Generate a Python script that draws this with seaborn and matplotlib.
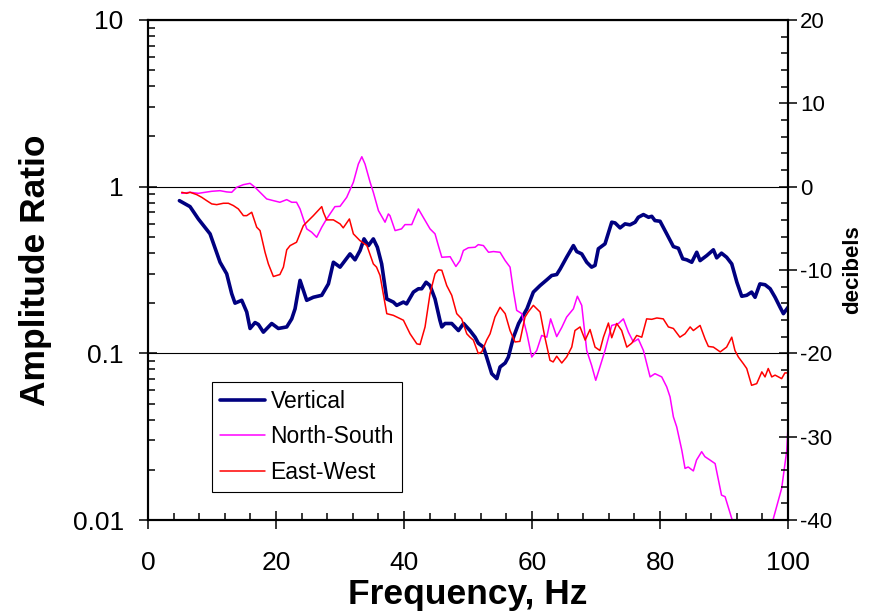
import matplotlib
matplotlib.use("Agg")
import matplotlib.pyplot as plt
import matplotlib.ticker as mticker
import numpy as np
import seaborn as sns

# Vertical component (frequency in Hz, amplitude ratio)
vert_f = [4.9, 6.56, 7.86, 9.69, 11.25, 12.29, 13.07, 13.59, 14.64, 15.42, 15.94, 16.72, 17.24,
          18.02, 19.32, 20.36, 21.67, 22.45, 22.97, 23.75, 24.79, 25.83, 27.14, 28.18, 28.96,
          30.0, 31.56, 32.34, 33.13, 33.75, 34.43, 35.2, 35.83, 36.5, 37.3, 38.33, 38.85, 39.9,
          40.4, 41.46, 42.24, 42.76, 43.44, 44.06, 44.84, 45.6, 45.9, 46.4, 47.45, 48.5, 49.3,
          50.3, 51.1, 51.6, 52.4, 52.9, 53.7, 54.5, 55.0, 55.8, 56.3, 57.1, 57.9, 59.2, 60.2,
          61.25, 62.3, 63.07, 63.85, 64.4, 65.4, 66.46, 66.98, 67.76, 68.54, 69.3, 69.84, 70.36,
          71.4, 72.45, 72.97, 73.75, 74.53, 75.3, 76.1, 76.6, 77.4, 78.2, 78.7, 79.2, 80.0,
          81.04, 82.08, 82.86, 83.54, 84.17, 84.95, 85.73, 86.25, 87.3, 88.33, 88.85, 89.6,
          90.4, 91.2, 92.0, 92.76, 93.54, 94.3, 94.84, 95.6, 96.4, 97.2, 97.97, 98.75, 99.27, 100.0]
vert_amp = [0.824, 0.759, 0.64, 0.521, 0.352, 0.3, 0.228, 0.2, 0.208, 0.177, 0.141, 0.153, 0.149,
            0.134, 0.151, 0.141, 0.144, 0.161, 0.185, 0.274, 0.208, 0.217, 0.223, 0.261, 0.352,
            0.329, 0.395, 0.364, 0.414, 0.486, 0.443, 0.486, 0.433, 0.344, 0.212, 0.203, 0.194, 0.203,
            0.198, 0.233, 0.244, 0.244, 0.267, 0.255, 0.212, 0.158, 0.144, 0.151, 0.151, 0.137, 0.151,
            0.137, 0.125, 0.115, 0.109, 0.095, 0.0755, 0.0705, 0.0828, 0.0875, 0.095, 0.125, 0.151,
            0.185, 0.233, 0.255, 0.276, 0.293, 0.297, 0.321, 0.377, 0.443, 0.408, 0.395, 0.352, 0.329,
            0.337, 0.424, 0.454, 0.612, 0.606, 0.566, 0.598, 0.59, 0.612, 0.655, 0.68, 0.655, 0.664,
            0.626, 0.62, 0.521, 0.437, 0.427, 0.369, 0.364, 0.352, 0.404, 0.36, 0.386, 0.418, 0.374,
            0.399, 0.377, 0.344, 0.267, 0.22, 0.223, 0.233, 0.217, 0.261, 0.258, 0.244, 0.217, 0.189,
            0.173, 0.189]

# North-South component
ns_f = [5.26, 6.56, 7.86, 9.95, 11.25, 12.29, 13.07, 13.85, 14.9, 15.94, 16.72, 17.5, 18.54, 19.6,
        20.6, 21.67, 22.45, 23.2, 23.75, 24.27, 24.8, 25.57, 26.35, 27.14, 27.9, 29.2, 30.0, 31.04,
        32.08, 32.86, 33.4, 33.9, 34.7, 35.2, 36.0, 37.03, 37.55, 37.8, 38.6, 39.6, 40.15, 41.2,
        41.46, 42.24, 43.0, 44.06, 44.84, 45.36, 45.9, 47.2, 48.1, 48.75, 49.27, 50.05, 51.1, 51.6,
        52.4, 53.2, 53.96, 55.0, 55.8, 56.56, 57.08, 57.6, 58.4, 59.2, 59.95, 60.73, 61.5, 62.3,
        62.9, 63.85, 64.64, 65.4, 66.46, 67.08, 67.76, 68.54, 69.3, 69.95, 70.6, 71.4, 72.45, 73.5,
        74.27, 75.05, 75.83, 76.6, 77.4, 78.44, 79.2, 80.26, 81.04, 81.56, 82.08, 82.6, 83.4, 83.9,
        84.4, 85.2, 85.7, 86.5, 87.0, 87.8, 88.6, 89.6, 90.16, 91.2, 92.5, 94.5, 96.5, 97.7, 99.0,
        99.8, 100.0]
ns_amp = [0.912, 0.925, 0.912, 0.938, 0.946, 0.93, 0.925, 0.991, 1.028, 1.047, 0.991, 0.925, 0.844,
          0.824, 0.806, 0.836, 0.806, 0.806, 0.735, 0.64, 0.558, 0.533, 0.497, 0.571, 0.64, 0.759,
          0.762, 0.863, 1.062, 1.367, 1.512, 1.367, 1.062, 0.925, 0.718, 0.612, 0.686, 0.67, 0.545,
          0.558, 0.592, 0.592, 0.626, 0.735, 0.655, 0.558, 0.521, 0.443, 0.377, 0.38, 0.332, 0.36,
          0.414, 0.43, 0.433, 0.449, 0.443, 0.404, 0.408, 0.404, 0.36, 0.329, 0.238, 0.181, 0.173,
          0.131, 0.095, 0.104, 0.128, 0.125, 0.161, 0.126, 0.143, 0.165, 0.185, 0.22, 0.194, 0.104,
          0.0848, 0.0689, 0.0828, 0.104, 0.147, 0.151, 0.161, 0.134, 0.117, 0.122, 0.104, 0.0722,
          0.0755, 0.0722, 0.0629, 0.0548, 0.0416, 0.0362, 0.0262, 0.0204, 0.0208, 0.0197, 0.0229,
          0.0257, 0.024, 0.0229, 0.0218, 0.0141, 0.0138, 0.0102, 0.0072, 0.0058, 0.0072, 0.0102,
          0.0155, 0.0262, 0.037]

# East-West component
ew_f = [5.26, 6.04, 6.56, 7.6, 8.39, 9.17, 9.95, 10.73, 11.77, 12.55, 13.33, 14.11, 14.9, 15.42,
        16.2, 16.98, 17.5, 18.28, 18.8, 19.58, 20.6, 21.15, 21.67, 22.2, 23.2, 24.27, 24.8, 25.83,
        27.14, 27.4, 27.9, 28.96, 30.0, 30.5, 31.46, 32.08, 33.1, 34.2, 35.2, 35.7, 36.25, 37.3,
        38.33, 39.9, 40.94, 42.0, 42.5, 43.28, 44.06, 44.84, 45.36, 45.9, 46.67, 47.45, 48.23,
        49.0, 49.8, 50.3, 50.83, 51.6, 52.14, 52.9, 53.44, 54.2, 55.0, 55.8, 56.56, 57.34, 58.1,
        58.9, 59.4, 60.2, 61.25, 62.0, 62.8, 63.3, 63.85, 64.64, 65.4, 66.2, 66.7, 67.5, 68.3,
        69.06, 69.84, 70.6, 71.15, 71.93, 72.45, 73.23, 74.0, 74.8, 75.57, 76.35, 77.14, 77.9,
        78.7, 79.5, 80.5, 81.3, 82.08, 83.1, 83.9, 84.7, 85.2, 86.25, 87.03, 87.55, 88.33, 89.4,
        90.4, 91.2, 91.7, 92.24, 93.0, 93.54, 94.3, 95.1, 95.9, 96.4, 96.9, 97.45, 97.97, 98.5,
        99.0, 99.5, 100.0]
ew_amp = [0.925, 0.912, 0.925, 0.896, 0.863, 0.824, 0.788, 0.78, 0.795, 0.795, 0.77, 0.735, 0.67,
          0.67, 0.702, 0.571, 0.545, 0.404, 0.344, 0.289, 0.297, 0.329, 0.418, 0.443, 0.464, 0.584,
          0.612, 0.67, 0.759, 0.702, 0.632, 0.632, 0.598, 0.566, 0.64, 0.521, 0.475, 0.443, 0.344,
          0.329, 0.293, 0.173, 0.169, 0.158, 0.131, 0.114, 0.113, 0.144, 0.228, 0.3, 0.317, 0.315,
          0.255, 0.223, 0.173, 0.161, 0.131, 0.125, 0.12, 0.0997, 0.102, 0.12, 0.131, 0.165, 0.189,
          0.173, 0.137, 0.117, 0.118, 0.165, 0.177, 0.194, 0.177, 0.125, 0.0908, 0.0888, 0.0961,
          0.0875, 0.095, 0.109, 0.137, 0.144, 0.12, 0.139, 0.109, 0.104, 0.125, 0.152, 0.124, 0.151,
          0.137, 0.109, 0.115, 0.128, 0.125, 0.161, 0.16, 0.163, 0.161, 0.144, 0.141, 0.125, 0.131,
          0.144, 0.137, 0.147, 0.122, 0.11, 0.109, 0.102, 0.109, 0.125, 0.104, 0.095, 0.0868, 0.0811,
          0.0643, 0.0658, 0.0774, 0.0722, 0.0811, 0.0722, 0.074, 0.0722, 0.0705, 0.0763, 0.0763]

left_ticks = [0.01, 0.1, 1, 10]
left_labels = ["0.01", "0.1", "1", "10"]
db_ticks = [-40, -30, -20, -10, 0, 10, 20]

sns.set_style("ticks")
plt.rcParams['font.family'] = ['Liberation Sans', 'DejaVu Sans']
plt.rcParams['axes.unicode_minus'] = False
plt.rcParams['text.color'] = 'black'
plt.rcParams['axes.labelcolor'] = 'black'
plt.rcParams['xtick.color'] = 'black'
plt.rcParams['ytick.color'] = 'black'

fig = plt.figure(figsize=(8.77, 6.13), dpi=100)
ax = fig.add_axes([0.1688, 0.1517, 0.7298, 0.8157])

sns.lineplot(x=vert_f, y=vert_amp, ax=ax, color='#000080', lw=2.6, label='Vertical',
             estimator=None, sort=False)
sns.lineplot(x=ns_f, y=ns_amp, ax=ax, color='#FF00FF', lw=1.1, label='North-South',
             estimator=None, sort=False)
sns.lineplot(x=ew_f, y=ew_amp, ax=ax, color='#FF0000', lw=1.1, label='East-West',
             estimator=None, sort=False)

ax.set_yscale('log')
ax.set_xlim(0, 100)
ax.set_ylim(0.01, 10)
ax.set_yticks(left_ticks)
ax.set_yticklabels(left_labels)
ax.yaxis.set_minor_locator(mticker.LogLocator(base=10, subs=np.arange(2, 10)))
ax.yaxis.set_minor_formatter(mticker.NullFormatter())
ax.set_xticks(np.arange(0, 101, 20))
ax.xaxis.set_minor_locator(mticker.MultipleLocator(4))

for sp in ax.spines.values():
    sp.set_color('black')
    sp.set_linewidth(1.5)

ax.yaxis.grid(True, which='major', color='black', lw=0.8)
ax.tick_params(axis='both', which='major', direction='inout', length=13, width=1.1,
               colors='black', labelsize=19)
ax.tick_params(axis='both', which='minor', direction='in', length=5, width=1.1, colors='black')
ax.tick_params(axis='x', which='major', pad=16)
ax.tick_params(axis='y', which='major', pad=11)

ax.set_xlabel('Frequency, Hz', fontsize=25.5, fontweight='bold', labelpad=2)
ax.set_ylabel('Amplitude Ratio', fontsize=25.5, fontweight='bold', labelpad=15)

ax2 = ax.twinx()
ax2.set_ylim(-40, 20)
ax2.set_yticks(db_ticks)
ax2.yaxis.set_minor_locator(mticker.MultipleLocator(2))
ax2.tick_params(axis='y', which='major', direction='inout', length=13, width=1.1,
                colors='black', labelsize=16, pad=2)
ax2.tick_params(axis='y', which='minor', direction='in', length=5, width=1.1, colors='black')
for sp in ax2.spines.values():
    sp.set_color('black')
    sp.set_linewidth(1.5)
ax2.set_ylabel('decibels', fontsize=16, fontweight='bold', labelpad=7)

leg = ax.legend(loc='lower left', bbox_to_anchor=(0.1, 0.056), borderaxespad=0,
                fontsize=16.5, frameon=True, fancybox=False, framealpha=1,
                edgecolor='black', handlelength=1.95, handletextpad=0.25,
                borderpad=0.35, labelspacing=0.55)
leg.get_frame().set_linewidth(0.8)

fig.savefig('out.png', dpi=100)
